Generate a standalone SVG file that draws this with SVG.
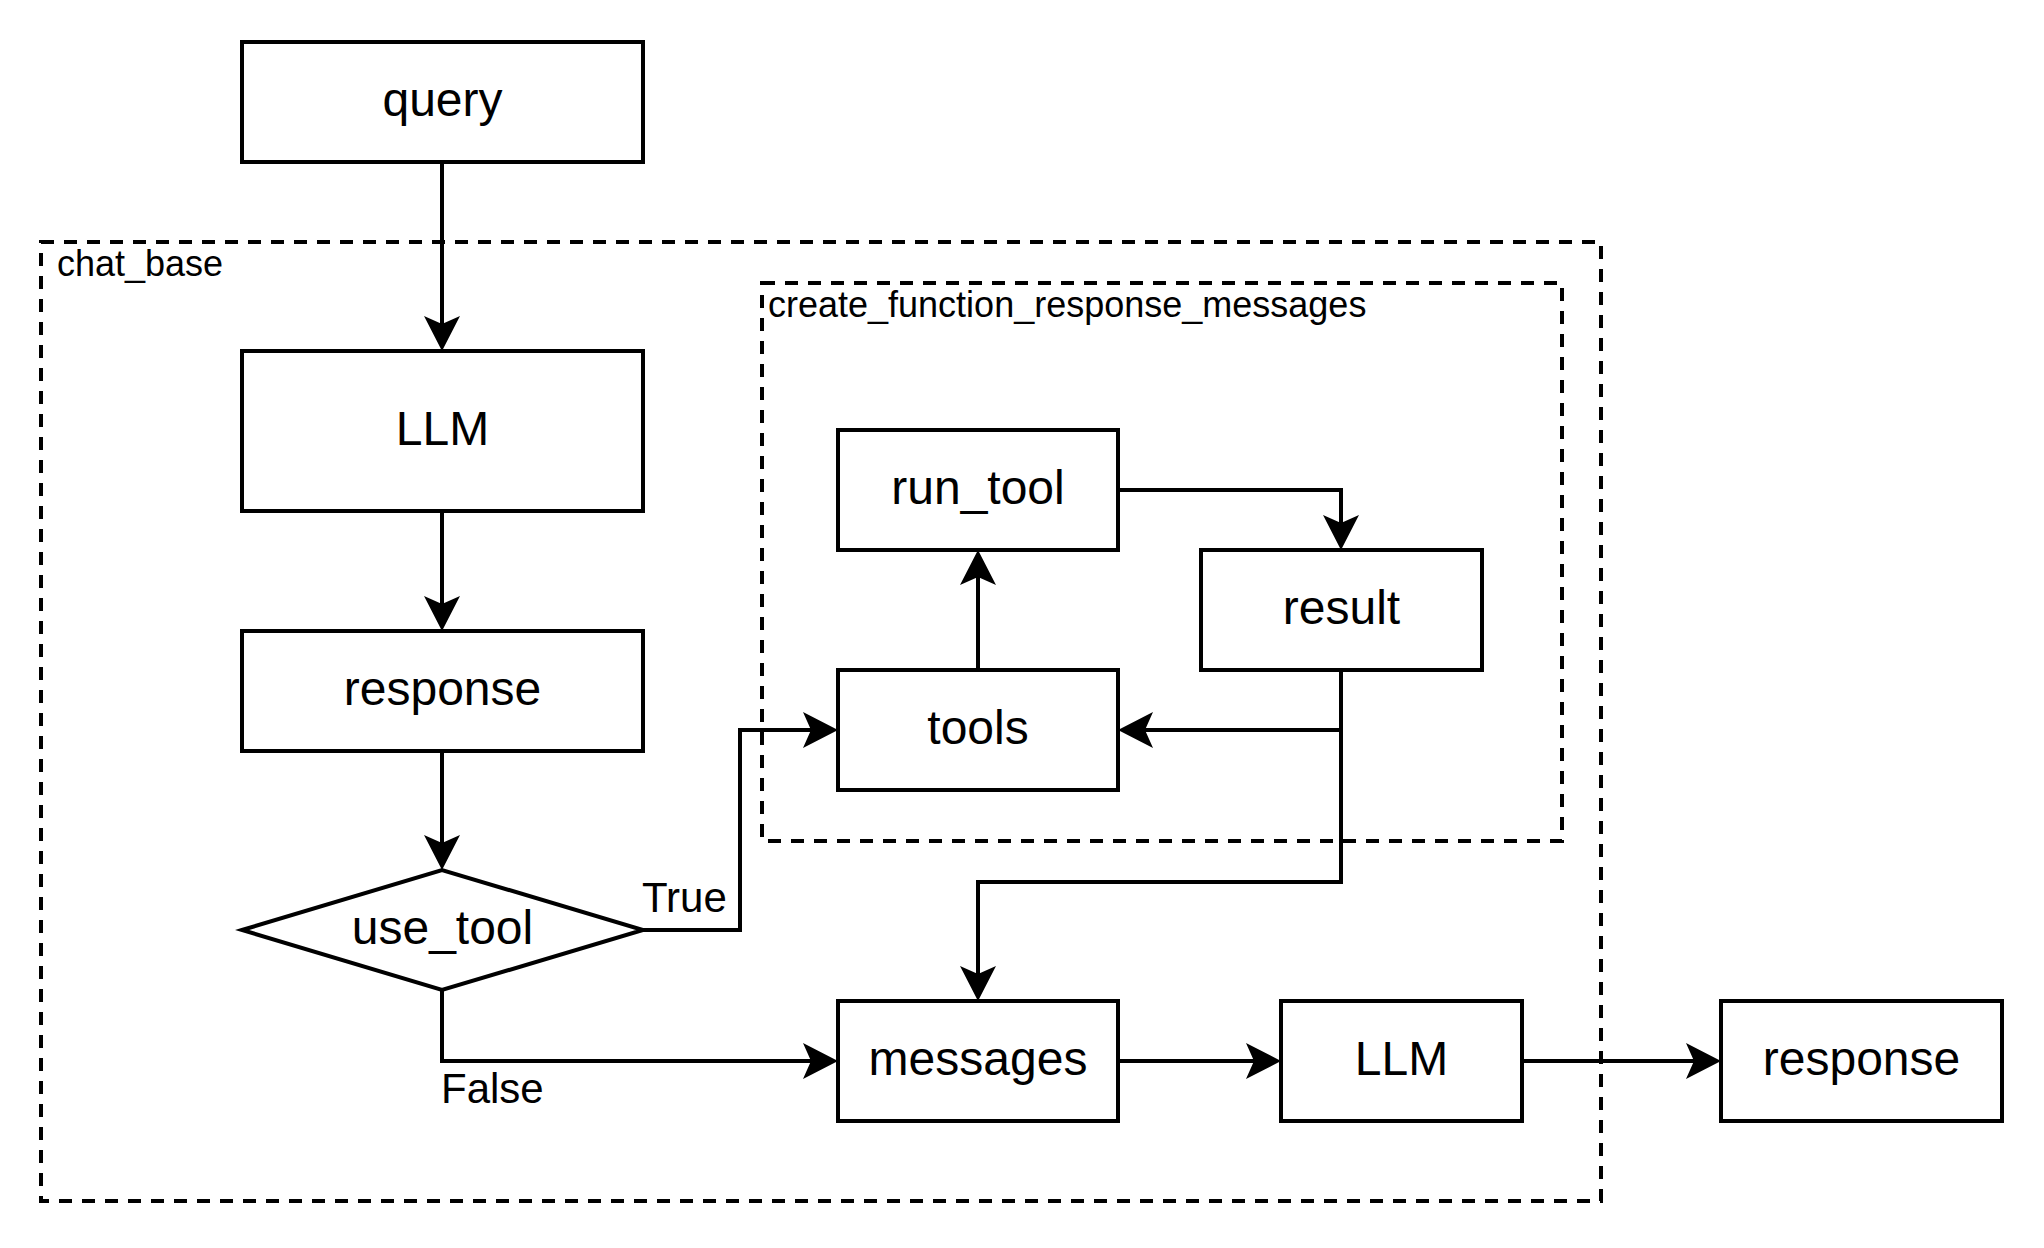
<svg xmlns="http://www.w3.org/2000/svg" width="2044" height="1248" viewBox="0 0 2044 1248">
  <style>
    .box { fill: #ffffff; stroke: #000000; stroke-width: 4; }
    .group { fill: none; stroke: #000000; stroke-width: 4; stroke-dasharray: 13 10; }
    .edge { fill: none; stroke: #000000; stroke-width: 4; marker-end: url(#arrow); }
    .lbl { font-family: "Liberation Sans", Arial, Helvetica, sans-serif; font-size: 48px; fill: #000000; text-anchor: middle; }
    .glbl { font-family: "Liberation Sans", Arial, Helvetica, sans-serif; font-size: 36px; fill: #000000; }
    .elbl { font-family: "Liberation Sans", Arial, Helvetica, sans-serif; font-size: 42px; fill: #000000; }
  </style>
  <defs>
    <marker id="arrow" markerUnits="userSpaceOnUse" viewBox="0 0 36 36" markerWidth="36" markerHeight="36" refX="25" refY="18" orient="auto">
      <path d="M35,18 L0,0 L8,18 L0,36 Z" fill="#000000"/>
    </marker>
  </defs>
  <rect width="2044" height="1248" fill="#ffffff"/>

  <g id="chat_base">
    <rect class="group" x="41" y="242" width="1560" height="959"/>
    <text class="glbl" x="57" y="276">chat_base</text>
  </g>
  <g id="create_function_response_messages">
    <rect class="group" x="762" y="283" width="800" height="558"/>
    <text class="glbl" x="768" y="317">create_function_response_messages</text>
  </g>

  <g id="connectors">
    <path class="edge" d="M442,162 V341"/>
    <path class="edge" d="M442,511 V621"/>
    <path class="edge" d="M442,751 V860"/>
    <path class="edge" d="M643,930 H740 V730 H828"/>
    <path class="edge" d="M442,990 V1061 H828"/>
    <path class="edge" d="M978,670 V560"/>
    <path class="edge" d="M1118,490 H1341 V540"/>
    <path class="edge" d="M1341,670 V730 H1128"/>
    <path class="edge" d="M1341,730 V882 H978 V991"/>
    <path class="edge" d="M1118,1061 H1271"/>
    <path class="edge" d="M1522,1061 H1711"/>
    <text class="elbl" x="642" y="912">True</text>
    <text class="elbl" x="441" y="1103">False</text>
  </g>

  <g id="query">
    <rect class="box" x="242" y="42" width="401" height="120"/>
    <text class="lbl" x="442.5" y="116">query</text>
  </g>
  <g id="llm1">
    <rect class="box" x="242" y="351" width="401" height="160"/>
    <text class="lbl" x="442.5" y="445">LLM</text>
  </g>
  <g id="response1">
    <rect class="box" x="242" y="631" width="401" height="120"/>
    <text class="lbl" x="442.5" y="705">response</text>
  </g>
  <g id="use_tool">
    <polygon class="box" points="242,930 442,870 643,930 442,990"/>
    <text class="lbl" x="442.5" y="944">use_tool</text>
  </g>
  <g id="run_tool">
    <rect class="box" x="838" y="430" width="280" height="120"/>
    <text class="lbl" x="978" y="504">run_tool</text>
  </g>
  <g id="result">
    <rect class="box" x="1201" y="550" width="281" height="120"/>
    <text class="lbl" x="1341.5" y="624">result</text>
  </g>
  <g id="tools">
    <rect class="box" x="838" y="670" width="280" height="120"/>
    <text class="lbl" x="978" y="744">tools</text>
  </g>
  <g id="messages">
    <rect class="box" x="838" y="1001" width="280" height="120"/>
    <text class="lbl" x="978" y="1075">messages</text>
  </g>
  <g id="llm2">
    <rect class="box" x="1281" y="1001" width="241" height="120"/>
    <text class="lbl" x="1401.5" y="1075">LLM</text>
  </g>
  <g id="response2">
    <rect class="box" x="1721" y="1001" width="281" height="120"/>
    <text class="lbl" x="1861.5" y="1075">response</text>
  </g>
</svg>
